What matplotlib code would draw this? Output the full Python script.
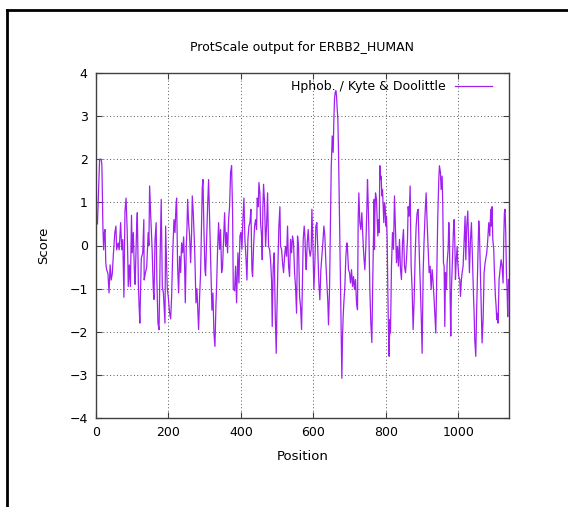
import matplotlib
matplotlib.use("Agg")
import matplotlib.pyplot as plt
from matplotlib.lines import Line2D

# Kyte & Doolittle hydrophobicity profile
positions = [
    4, 8, 10, 14, 16, 17, 19, 21, 23, 25, 27, 29, 33, 36, 39, 42, 45, 48, 52, 55,
    57, 61, 64, 68, 71, 74, 77, 80, 83, 86, 88, 89, 92, 95, 98, 100, 103, 106, 108, 112,
    114, 117, 119, 121, 125, 129, 132, 133, 136, 140, 144, 146, 148, 151, 155, 158, 160, 163, 166, 168,
    171, 174, 177, 180, 183, 186,
    190.4, 192.2, 195, 196.8, 199.6, 203.2, 206, 208.7, 211.5, 215.2, 218, 220.7, 222.5, 225.3,
    228, 230.8, 233.6, 236.3, 239.1, 241.9, 244.6, 246.5, 249.2, 251, 252.9, 255.6, 258.4, 261.2,
    263.9, 265.8, 268.5, 271.3, 273.1, 275.9, 278.6, 281.4, 283.2, 286, 288.7, 291.5, 293.3, 295.2,
    297.9, 300.7, 302.5, 305.3, 308, 310.8, 312.7, 315.4, 318.2, 320, 322.8, 325.5, 328.3, 331,
    332.9, 335.6, 338.4, 341.2, 343.9, 346.7, 349.4, 352.2, 355, 357.7, 360.5, 363.2, 366, 368.7,
    371.5, 374.3, 377, 378.9,
    382.5, 385.3, 388, 391.7, 394.5, 397.3, 400, 402.8, 405.5, 408.3, 411, 413.8, 416.6, 419.3,
    422.1, 424.8, 427.6, 430.4, 432.2, 435, 437.7, 440.5, 443.2, 445.1, 447.8, 449.7, 452.4, 454.3,
    457, 458.9, 460.7, 462.5, 465.3, 468.1, 470.8, 473.6, 476.3, 479.1, 481.8, 484.6, 486.4, 489.2,
    492, 494.7, 497.5, 499.3, 502.1, 504.8, 507.6, 509.4, 512.2, 514.9, 517.7, 520.5, 523.2, 526,
    528.7, 531.5, 534.3, 537, 539.8, 542.5, 545.3, 548.1, 550.8, 553.6, 556.3, 559.1, 561.9, 564.6,
    567.4, 570.1, 572,
    574.7, 576.6, 578.4, 580.2, 583, 585.8, 588.5, 591.3, 594, 595.9, 598.6, 601.4, 604.1, 606.9,
    609.7, 612.4, 615.2, 617.9, 620.7, 623.5, 626.2, 629, 631.7, 634.5, 637.2, 640, 641.8, 644.6,
    647.4, 649.2, 652, 654.7, 656.6, 658.4, 660.2, 662.1, 663.9, 665.8, 667.6, 669.4, 671.3, 673.1,
    675, 676.8, 678.6, 680.5, 682.3, 684.1, 686.9, 689.7, 692.4, 694.3, 697, 699.8, 702.5, 705.3,
    708.1, 710.8, 713.6, 716.3, 719.1, 721.8, 723.7, 725.5, 728.3, 731, 733.8, 736.5, 739.3, 742.1,
    744.8, 747.6, 749.4, 751.3, 753.1, 755.9, 758.6, 761.4, 764.1,
    767.8, 768.7, 769.7, 771.5, 774.3, 776.1, 777.9, 779.8, 781.6, 783.5, 785.3, 787.1, 789, 790.8,
    792.6, 794.5, 796.3, 798.2, 800, 801.8, 803.7, 805.5, 807.4, 809.2, 811, 812.9, 815.6, 818.4,
    821.2, 823.9, 826.7, 829.4, 832.2, 834.9, 837.7, 840.5, 843.2, 846, 848.7, 851.5, 854.3, 857,
    859.8, 861.6, 864.4, 867.1, 869.9, 872.6, 875.4, 878.2, 880.9, 883.7, 886.4, 889.2, 892, 894.7,
    897.5, 900.2, 903, 905.7, 908.5, 911.3, 914, 916.8, 919.5, 922.3, 925.1, 927.8, 930.6, 933.3,
    936.1, 937.9, 940.7, 943.4, 946.2, 948, 950.8, 952.6, 955.4, 957.2, 959.1,
    960.9, 962.8, 964.6, 967.4, 969.2, 972, 973.8, 975.6, 977.5, 979.3, 981.1, 983.9, 986.7, 988.5,
    990.3, 992.2, 994, 996.8, 998.6, 1001.4, 1004.1, 1006, 1008.7, 1010.6, 1013.3, 1016.1, 1018.8, 1020.7,
    1023.4, 1026.2, 1028, 1030.8, 1033.6, 1036.3, 1039.1, 1041.8, 1043.7, 1045.5, 1048.3, 1050.1, 1052, 1054.7,
    1056.5, 1058.4, 1061.1, 1063.9, 1065.7, 1068.5, 1071.3, 1074, 1076.8, 1078.6, 1081.4, 1084.1, 1086.9, 1089.7,
    1091.5, 1093.3, 1095.2, 1097.9, 1099.8, 1102.5, 1104.4, 1106.2, 1108, 1109.9, 1112.6, 1115.4, 1118.2, 1120.9,
    1123.7, 1125.5, 1127.3, 1129.2, 1131, 1132.9, 1134.7, 1136.5, 1138.4,
]
scores = [
    0.5, 1.5, 2.0, 2.0, 1.9, 1.5, 0.45, -0.1, 0.3, 0.37, -0.4, -0.55, -0.65, -1.1, -0.45, -0.8, -0.65, -0.2, 0.3, 0.45,
    -0.1, 0.06, -0.1, 0.53, -0.1, 0.14, -1.2, 0.8, 1.1, 0.37, -0.4, -0.95, -0.45, -0.95, 0.7, -0.17, 0.3, -0.6, -0.9, 0.37,
    0.76, -0.9, -1.4, -1.8, -0.3, -0.17, 0.6, -0.8, -0.65, -0.5, 0.3, 0.0, 1.38, 0.7, -0.1, -1.0, -1.25, 0.14, 0.53, -0.8,
    -1.8, -1.95, -0.25, 1.07, -0.95, -1.1,
    -1.8, 0.45, -0.5, -1.0, -1.2, -1.57, -1.7, -1.2, -0.25, 0.6, 0.3, 0.9, 1.1, -0.5,
    -1.1, -0.25, -0.63, 0.06, -0.17, 0.2, -0.48, -1.33, -0.02, 0.37, 1.07, 0.53, 0.22, -0.4,
    0.3, 1.15, 0.76, 0.14, -0.33, -1.33, -1.0, -1.57, -1.95, -1.18, -0.63, 0.6, 1.34, 1.53,
    0.37, -0.56, -0.7, 0.14, 0.9, 1.53, 0.9, -0.02, -1.02, -1.5, -1.1, -2.03, -2.34, -1.41,
    -0.95, -0.09, 0.53, -0.09, 0.37, -0.63, -0.48, 0.14, 0.76, -0.02, 0.3, -0.17, 0.6, 0.9,
    1.7, 1.85, 0.76, -1.0,
    -1.05, -0.48, -1.33, -0.17, -0.87, 0.22, 0.3, -0.09, 0.6, 1.1, 0.14, -0.25, -0.8, 0.14,
    0.45, 0.53, 0.84, -0.56, -0.72, -0.02, 0.45, 0.6, 0.37, 1.1, 0.9, 1.46, 1.22, 0.53,
    0.22, -0.33, 0.9, 1.42, 0.99, -0.02, 0.45, 1.22, -0.02, -0.09, -0.33, -0.8, -1.88, -0.48,
    -0.17, -1.57, -2.5, -1.57, -0.48, 0.45, 0.9, -0.02, -0.09, -0.4, -0.63, -0.25, -0.02, -0.25,
    0.45, -0.48, -0.72, 0.14, -0.17, 0.22, 0.06, -0.63, -0.95, -1.57, 0.22, -0.02, -1.18, -1.41,
    -1.95, -0.79, 0.14,
    0.45, 0.22, -0.25, -0.56, 0.06, 0.37, -0.09, -0.25, -0.09, 0.84, 0.06, -1.02, -0.4, 0.45,
    0.53, -0.17, -0.87, -1.26, -0.56, -0.25, 0.06, 0.45, 0.22, -0.4, -0.87, -1.33, -1.84, -1.02,
    0.6, 1.77, 2.54, 2.16, 2.93, 3.4, 3.55, 3.59, 3.47, 3.16, 2.93, 2.16, 1.15, 0.06,
    -0.95, -1.95, -3.08, -2.11, -1.64, -1.33, -0.95, -0.25, 0.06, -0.09, -0.56, -0.63, -0.87, -0.56,
    -0.95, -0.72, -1.02, -0.79, -1.33, -1.49, 0.6, 1.22, 0.53, 0.37, 0.76, 0.22, -0.25, -0.56,
    -0.02, 0.84, 1.53, 0.99, 0.37, -1.02, -1.8, -2.25, -0.72,
    1.07, -0.09, 0.68, 1.22, 1.07, 0.6, 0.22, 0.6, 0.3, 1.85, 1.53, 1.61, 1.15, 1.3,
    0.9, 0.53, 0.99, 0.9, 0.45, 0.68, 0.14, -1.02, -2.03, -2.57, -1.72, -2.03, -0.48, 0.3,
    -0.09, 1.15, 0.37, -0.4, -0.02, -0.48, 0.14, -0.56, -0.79, 0.06, 0.37, -0.48, -0.63, -0.33,
    0.14, 0.9, 0.68, 1.38, -0.48, -1.02, -1.95, -1.26, -0.25, 0.45, 0.76, 0.84, -0.09, -0.79,
    -1.57, -2.5, -0.63, 0.14, 0.76, 1.22, 0.53, -0.09, -0.63, -0.48, -1.02, -0.56, -0.87, -1.26,
    -1.72, -2.03, -0.63, 0.68, 1.53, 1.85, 1.69, 1.3, 1.61, 0.9, -0.4,
    -0.48, -1.88, -0.63, -1.02, -0.4, -0.09, 0.53, 0.14, -1.18, -2.1, -1.02, -0.33, 0.37, 0.6,
    0.14, -0.79, -0.4, -0.02, -0.4, -0.72, -0.79, -1.18, -0.79, -0.63, -0.48, 0.14, 0.68, -0.33,
    0.45, 0.8, 0.22, -0.63, 0.14, 0.53, -0.33, -1.1, -1.57, -2.19, -2.57, -1.72, -1.02, -0.09,
    0.57, 0.3, -0.63, -1.57, -2.26, -1.72, -0.63, -0.4, -0.25, -0.17, 0.14, 0.53, 0.22, 0.84,
    0.45, 0.9, 0.14, -0.09, -0.63, -1.18, -1.41, -1.72, -1.57, -1.8, -0.79, -0.56, -0.33, -0.48,
    -0.87, 0.14, 0.76, 0.84, 0.3, -0.63, -1.02, -1.65, -0.79,
]

plt.rcParams['font.family'] = 'DejaVu Sans'

fig = plt.figure(figsize=(5.68, 5.07), dpi=100)
ax = fig.add_axes([96 / 568, 1 - 418 / 507, 413 / 568, 345 / 507])

ax.plot(positions, scores, color='#a020f0', lw=0.9, label='Hphob. / Kyte & Doolittle')

ax.set_xlim(0, 1140)
ax.set_ylim(-4, 4)
ax.set_xticks([0, 200, 400, 600, 800, 1000])
ax.set_yticks(range(-4, 5))
ax.grid(True, color='#555555', linestyle=(0, (1, 2.5)), linewidth=0.7)
ax.tick_params(direction='in', length=4, top=True, right=True, labelsize=9,
               color='#404040', pad=6)
for s in ax.spines.values():
    s.set_color('#404040')
    s.set_linewidth(1.0)

ax.set_title('ProtScale output for ERBB2_HUMAN', fontsize=9, pad=16)
ax.set_xlabel('Position', fontsize=9.5, labelpad=8)
ax.set_ylabel('Score', fontsize=9.5, labelpad=14)

leg = ax.legend(loc='upper right', bbox_to_anchor=(1 - 12 / 413, 0.993), frameon=False,
                markerfirst=False, fontsize=9, handlelength=3.0, borderaxespad=0,
                handletextpad=0.7)

# outer frame on top and left edge of the image
fig.add_artist(Line2D([7 / 568, 7 / 568], [0, 1 - 10 / 507], color='black', lw=2))
fig.add_artist(Line2D([7 / 568, 1], [1 - 10 / 507, 1 - 10 / 507], color='black', lw=2))

fig.savefig('out.png', dpi=100)
